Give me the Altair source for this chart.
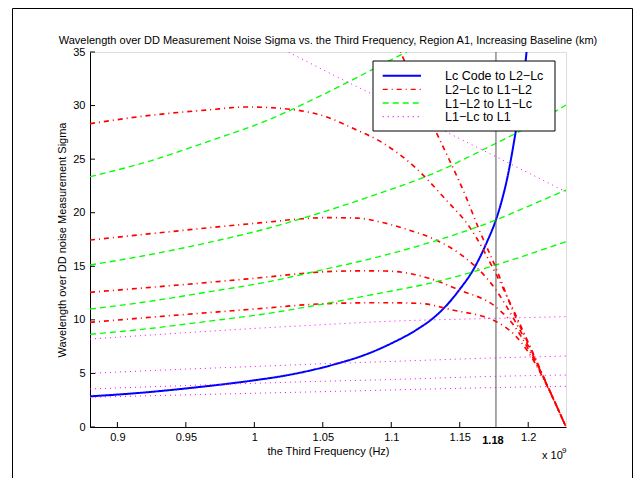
import altair as alt
import pandas as pd

TITLE = "Wavelength over DD Measurement Noise Sigma vs. the Third Frequency, Region A1, Increasing Baseline (km)"
TYPES = ["Lc Code to L2\u2212Lc", "L2\u2212Lc to L1\u2212L2", "L1\u2212L2 to L1\u2212Lc", "L1\u2212Lc to L1"]
COLORS = ["#0000ff", "#ff0000", "#00ff00", "#ff00ff"]
DASHES = [[1, 0], [5, 4, 1, 4], [6, 4], [1, 4]]
WIDTHS = [2, 1, 1, 1]

X_TICKS = [0.9, 0.95, 1.0, 1.05, 1.1, 1.15, 1.2]
Y_TICKS = [0, 5, 10, 15, 20, 25, 30, 35]
F_MARK = 1.17645
F_MARK_LABEL = "1.18"

# Lc Code to L2-Lc (blue)
blue_f = [0.88, 0.915, 0.951, 1.0, 1.02, 1.04, 1.06, 1.08, 1.1, 1.12, 1.13, 1.14, 1.15, 1.16, 1.17, 1.1764, 1.18, 1.185, 1.19, 1.195, 1.1988, 1.2005]
blue_v = [2.86, 3.17, 3.61, 4.36, 4.74, 5.25, 5.9, 6.7, 7.8, 9.2, 10.1, 11.3, 12.85, 14.7, 17.3, 19.32, 20.8, 23.4, 26.9, 31.0, 35.03, 37.5]

# L2-Lc to L1-L2 (red dash-dot), increasing baseline
r0_f = [1.100, 1.1338, 1.1436, 1.1545, 1.1642, 1.1764, 1.1886, 1.2007, 1.2129, 1.2276]
r0_v = [37.0, 27.25, 24.6, 21.5, 18.4, 14.85, 10.92, 7.6, 4.15, 0.0]
r1_f = [0.88, 0.922, 0.966, 0.995, 1.024, 1.053, 1.072, 1.094, 1.116, 1.14, 1.157, 1.1764, 1.19, 1.2, 1.21, 1.22, 1.2276]
r1_v = [28.31, 29.06, 29.59, 29.87, 29.68, 28.93, 27.88, 26.5, 24.4, 21.2, 18.7, 14.3, 10.7, 7.9, 5.05, 2.2, 0.0]
r2_f = [0.88, 0.951, 1.0, 1.053, 1.075, 1.0912, 1.11, 1.1326, 1.1496, 1.1764, 1.19, 1.2, 1.21, 1.22, 1.2276]
r2_v = [17.45, 18.39, 19.0, 19.54, 19.5, 19.16, 18.5, 17.45, 16.21, 12.8, 9.97, 7.58, 4.96, 2.17, 0.0]
r3_f = [0.88, 0.951, 1.0, 1.053, 1.08, 1.096, 1.1277, 1.1496, 1.1764, 1.19, 1.2, 1.21, 1.22, 1.2276]
r3_v = [12.57, 13.32, 13.88, 14.5, 14.58, 14.56, 13.88, 12.79, 11.2, 9.4, 7.3, 4.85, 2.16, 0.0]
r4_f = [0.88, 0.951, 1.0, 1.047, 1.09, 1.1204, 1.1447, 1.1764, 1.19, 1.2, 1.21, 1.22, 1.2276]
r4_v = [9.77, 10.52, 11.01, 11.48, 11.6, 11.54, 10.92, 9.85, 8.6, 7.0, 4.8, 2.15, 0.0]

# L1-L2 to L1-Lc (green dashed)
g_f = [0.88, 0.922, 0.966, 1.01, 1.047, 1.0912, 1.1277, 1.1764, 1.2, 1.2276]
g1_v = [23.36, 24.76, 26.63, 28.65, 30.83, 33.7, 36.2, 40.8, 43.5, 46.7]
g2_v = [15.12, 16.05, 17.2, 18.55, 19.94, 21.81, 23.5, 26.48, 28.0, 30.05]
g3_v = [11.01, 11.7, 12.6, 13.55, 14.59, 15.9, 17.2, 19.32, 20.6, 22.12]
g4_v = [8.65, 9.17, 9.86, 10.6, 11.4, 12.48, 13.4, 15.12, 16.1, 17.3]

# L1-Lc to L1 (magenta dotted)
m0_f = [1.012, 1.02, 1.06, 1.10, 1.14, 1.18, 1.2276]
m0_v = [35.8, 35.3, 32.7, 30.2, 27.55, 25.0, 21.95]
m_f = [0.88, 0.95, 1.0, 1.05, 1.0912, 1.1764, 1.2276]
m1_v = [8.21, 8.8, 9.2, 9.55, 9.83, 10.14, 10.3]
m2_v = [5.01, 5.4, 5.65, 5.9, 6.08, 6.45, 6.62]
m3_v = [3.55, 3.87, 4.08, 4.27, 4.4, 4.73, 4.85]
m4_v = [2.77, 3.0, 3.15, 3.3, 3.43, 3.68, 3.8]

curves = [
    (0, "b", blue_f, blue_v),
    (1, "r0", r0_f, r0_v), (1, "r1", r1_f, r1_v), (1, "r2", r2_f, r2_v),
    (1, "r3", r3_f, r3_v), (1, "r4", r4_f, r4_v),
    (2, "g1", g_f, g1_v), (2, "g2", g_f, g2_v), (2, "g3", g_f, g3_v), (2, "g4", g_f, g4_v),
    (3, "m0", m0_f, m0_v), (3, "m1", m_f, m1_v), (3, "m2", m_f, m2_v),
    (3, "m3", m_f, m3_v), (3, "m4", m_f, m4_v),
]
rows = []
for ti, cid, fs, vs in curves:
    for f, v in zip(fs, vs):
        rows.append({"type": TYPES[ti], "curve": cid, "f": f, "v": v})
df = pd.DataFrame(rows)

FONT = "Liberation Sans"
W, H = 476, 375

xscale = alt.Scale(domain=[0.88, 1.2276], nice=False, zero=False)
yscale = alt.Scale(domain=[0, 35], nice=False)
cscale = alt.Scale(domain=TYPES, range=COLORS)
dscale = alt.Scale(domain=TYPES, range=DASHES)
wscale = alt.Scale(domain=TYPES, range=WIDTHS)

lines = alt.Chart(df).mark_line(clip=True, interpolate="monotone").encode(
    x=alt.X("f:Q", scale=xscale,
            axis=alt.Axis(values=X_TICKS, format="~g", title="the Third Frequency (Hz)",
                          grid=False, ticks=False, tickSize=0, labelPadding=4,
                          titlePadding=3, domainColor="black", labelColor="black",
                          labelFont=FONT, labelFontSize=11, titleFont=FONT,
                          titleFontSize=11, titleFontWeight="normal", titleColor="black")),
    y=alt.Y("v:Q", scale=yscale,
            axis=alt.Axis(values=Y_TICKS, title="Wavelength over DD noise Measurement Sigma",
                          grid=False, ticks=False, tickSize=0, labelPadding=5,
                          titlePadding=5, domainColor="black", labelColor="black",
                          labelFont=FONT, labelFontSize=11, titleFont=FONT,
                          titleFontSize=11, titleFontWeight="normal", titleColor="black")),
    color=alt.Color("type:N", scale=cscale, legend=None),
    strokeDash=alt.StrokeDash("type:N", scale=dscale, legend=None),
    strokeWidth=alt.StrokeWidth("type:N", scale=wscale, legend=None),
    detail="curve:N",
)

vline = alt.Chart(pd.DataFrame({"f": [F_MARK]})).mark_rule(color="#555555", strokeWidth=1).encode(
    x="f:Q", y=alt.datum(0), y2=alt.datum(35)
)

xt = alt.Chart(pd.DataFrame({"f": X_TICKS})).mark_rule(color="black", strokeWidth=1).encode(
    x="f:Q", y=alt.value(H), y2=alt.value(H - 5)
)
yt = alt.Chart(pd.DataFrame({"v": Y_TICKS})).mark_rule(color="black", strokeWidth=1).encode(
    y="v:Q", x=alt.value(0), x2=alt.value(5)
)

mark_label = alt.Chart(pd.DataFrame({"f": [F_MARK], "t": [F_MARK_LABEL]})).mark_text(
    font=FONT, fontSize=11, fontWeight="bold", baseline="top", align="center", dx=-3, color="black"
).encode(x="f:Q", y=alt.value(H + 8), text="t:N")

exp_base = alt.Chart(pd.DataFrame({"t": ["x 10"]})).mark_text(
    font=FONT, fontSize=11, align="left", baseline="alphabetic", color="black"
).encode(x=alt.value(452), y=alt.value(407), text="t:N")
exp_pow = alt.Chart(pd.DataFrame({"t": ["9"]})).mark_text(
    font=FONT, fontSize=8, align="left", baseline="alphabetic", color="black"
).encode(x=alt.value(472), y=alt.value(401), text="t:N")

title = alt.Chart(pd.DataFrame({"t": [TITLE]})).mark_text(
    font=FONT, fontSize=11, align="center", baseline="alphabetic", color="black"
).encode(x=alt.value(W / 2), y=alt.value(-8), text="t:N")

frame = alt.Chart(pd.DataFrame({"a": [0]})).mark_rect(
    fillOpacity=0, stroke="black", strokeWidth=1
).encode(x=alt.value(-77.5), x2=alt.value(542.5), y=alt.value(-43.5), y2=alt.value(460))

# legend (drawn from the series names, colours and dash styles)
LEG_X0, LEG_X1, LEG_Y0, LEG_Y1 = 283, 465, 9, 79
leg_box = alt.Chart(pd.DataFrame({"a": [0]})).mark_rect(
    fill="white", stroke="black", strokeWidth=1
).encode(x=alt.value(LEG_X0), x2=alt.value(LEG_X1), y=alt.value(LEG_Y0), y2=alt.value(LEG_Y1))
leg_layers = [leg_box]
for i, name in enumerate(TYPES):
    yy = 23.7 + 13.65 * i
    row = pd.DataFrame({"type": [name]})
    leg_layers.append(alt.Chart(row).mark_rule(strokeDash=DASHES[i], strokeWidth=WIDTHS[i] if i == 0 else 1.3,
                                               color=COLORS[i]).encode(
        x=alt.value(292.7), x2=alt.value(331), y=alt.value(yy)))
    leg_layers.append(alt.Chart(row).mark_text(
        font=FONT, fontSize=12.5, align="left", baseline="middle", color="black").encode(
        x=alt.value(355), y=alt.value(yy + 0.5), text="type:N"))

chart = alt.layer(lines, vline, xt, yt, mark_label, exp_base, exp_pow, title, frame, *leg_layers).properties(
    width=W, height=H,
    autosize=alt.AutoSizeParams(type="none"),
    padding={"left": 82, "top": 44, "right": 68, "bottom": 51},
).configure_view(stroke=None).configure(background="white")

chart.save("out.html", embed_options={"renderer": "svg", "actions": False})
